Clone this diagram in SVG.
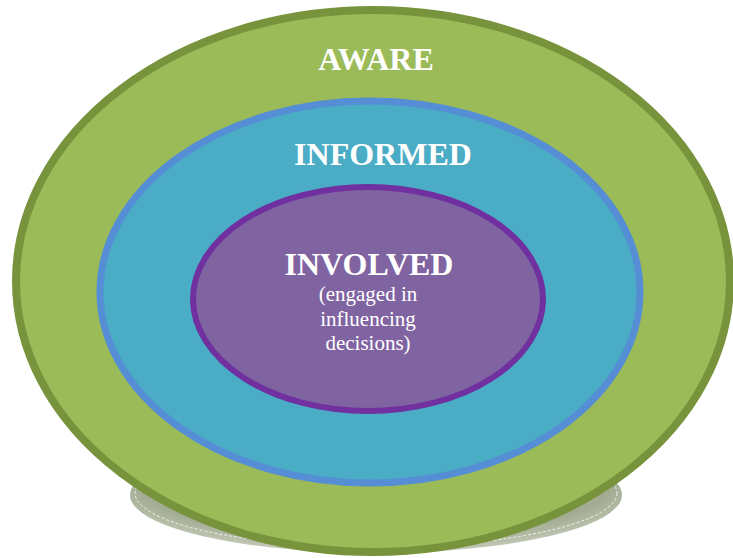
<svg xmlns="http://www.w3.org/2000/svg" width="733" height="558" viewBox="0 0 733 558">
<defs>
<radialGradient id="sh" cx="50%" cy="40%" r="60%">
<stop offset="0.8" stop-color="#A3AC93"/>
<stop offset="1" stop-color="#C4CAB8"/>
</radialGradient>
</defs>
<style>
.t{font-family:"Liberation Serif","Times New Roman",serif;fill:#fff;text-anchor:middle}
.b{font-weight:bold;font-size:32px}
.s{font-size:21px}
</style>
<rect width="733" height="558" fill="#fff"/>
<g id="shadow">
<ellipse cx="376" cy="495" rx="246" ry="58" fill="url(#sh)"/>
<ellipse cx="376" cy="493" rx="241" ry="54" fill="none" stroke="#fff" stroke-width="0.8" stroke-dasharray="3 2"/>
</g>
<g id="aware">
<ellipse cx="373" cy="281" rx="357" ry="271" fill="#9BBB59" stroke="#77933C" stroke-width="8"/>
<text class="t b" x="376" y="70">AWARE</text>
</g>
<g id="informed">
<ellipse cx="370" cy="292" rx="270" ry="191" fill="#4BACC6" stroke="#558ED5" stroke-width="7"/>
<text class="t b" x="383" y="165">INFORMED</text>
</g>
<g id="involved">
<ellipse cx="368" cy="299" rx="175" ry="112" fill="#8064A2" stroke="#7030A0" stroke-width="6"/>
<text class="t b" x="369" y="275">INVOLVED</text>
<text class="t s" x="368" y="301">(engaged in</text>
<text class="t s" x="368" y="326">influencing</text>
<text class="t s" x="368" y="350">decisions)</text>
</g>
<g id="connectors"/>
</svg>
